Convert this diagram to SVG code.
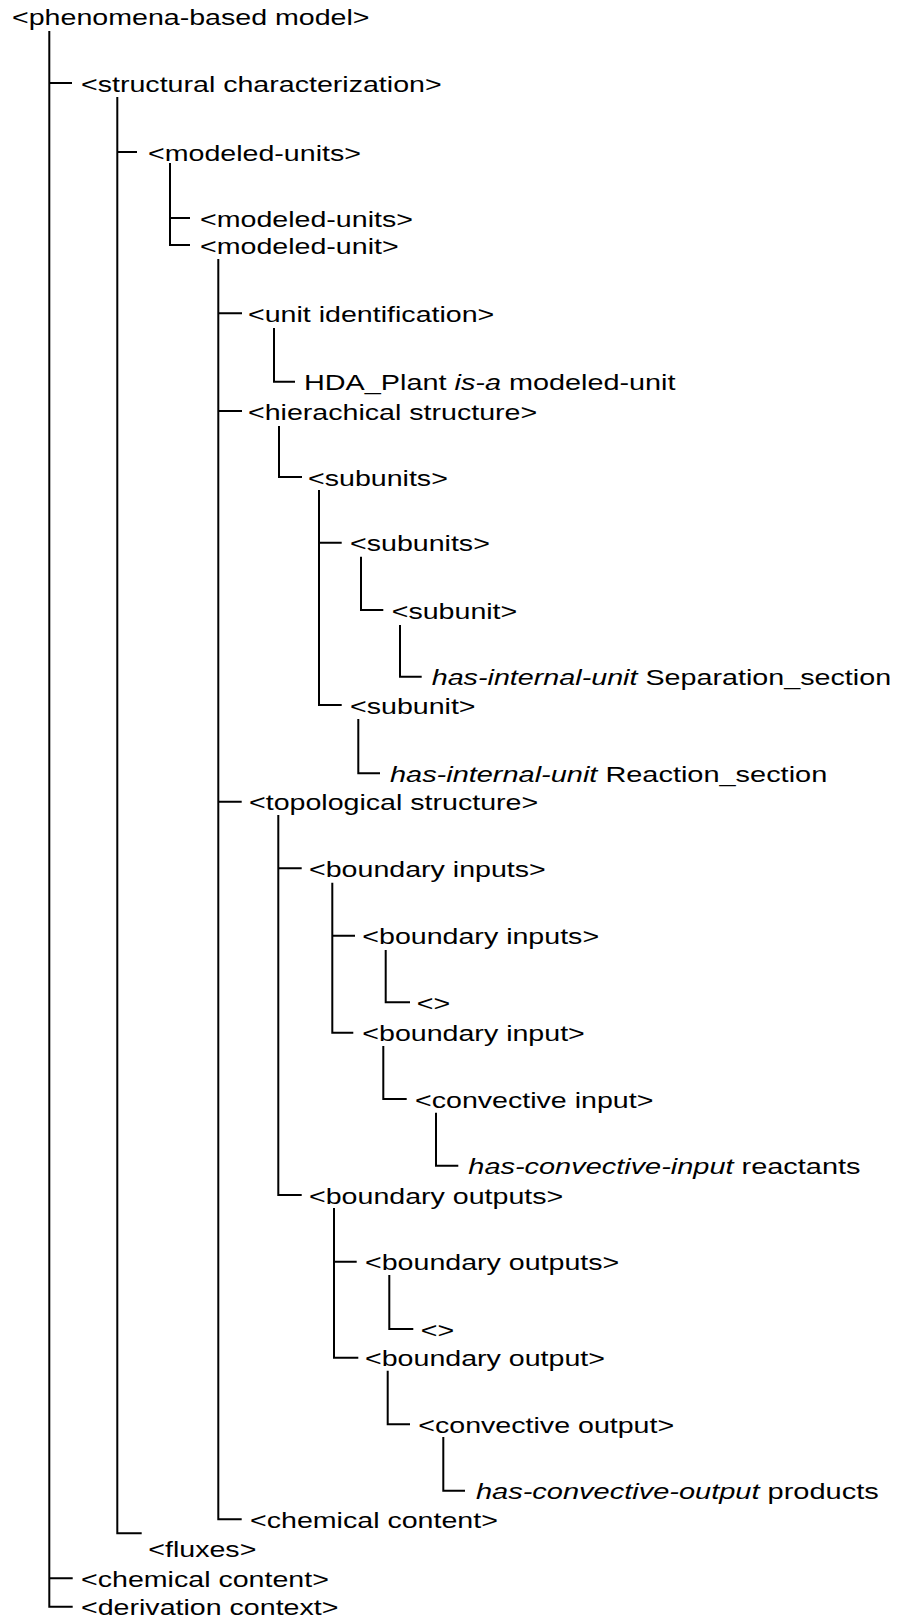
<svg xmlns="http://www.w3.org/2000/svg" width="898" height="1620" viewBox="0 0 898 1620">
<style>
  .t { font-family: "Liberation Sans", Arial, sans-serif; font-size: 22px; fill: #000; }
  .i { font-style: italic; }
  .c { fill: none; stroke: #000; stroke-width: 2; stroke-linejoin: miter; stroke-linecap: butt; }
</style>
<rect width="898" height="1620" fill="#fff"/>
<g id="connectors">
  <path class="c" d="M49.3,31 V1606.7 H72.7 M49.3,83 H72 M49.3,1578.3 H72.7"/>
  <path class="c" d="M117.3,97 V1533.3 H141.7 M117.3,152 H137"/>
  <path class="c" d="M170,163 V245 H190 M170,218 H190"/>
  <path class="c" d="M218.3,259 V1519.3 H241.7 M218.3,313.3 H242 M218.3,411 H242 M218.3,801.7 H241.7"/>
  <path class="c" d="M274,328 V381.7 H295"/>
  <path class="c" d="M279,426 V477 H302"/>
  <path class="c" d="M319,490 V705 H341.7 M319,542.7 H341.7"/>
  <path class="c" d="M361,556.7 V610 H383.3"/>
  <path class="c" d="M400,625 V676.7 H421.7"/>
  <path class="c" d="M358.3,719 V773.3 H380"/>
  <path class="c" d="M278.3,815 V1195 H301.7 M278.3,868.3 H301.7"/>
  <path class="c" d="M332.3,882.7 V1032.7 H353.3 M332.3,935.7 H355"/>
  <path class="c" d="M385.7,950 V1002.3 H410"/>
  <path class="c" d="M383.3,1046 V1099 H406.7"/>
  <path class="c" d="M436,1112.7 V1165.7 H458.3"/>
  <path class="c" d="M334,1208 V1357.7 H358.3 M334,1261.7 H356.7"/>
  <path class="c" d="M389.3,1275 V1329 H413.3"/>
  <path class="c" d="M387.7,1370.7 V1424.3 H410"/>
  <path class="c" d="M443.3,1437 V1490.7 H465"/>
</g>
<g id="n-phenomena-based-model"><text class="t" transform="translate(12,25) scale(1.3,1)">&lt;phenomena-based model&gt;</text></g>
<g id="n-structural-characterization"><text class="t" transform="translate(81,91.5) scale(1.3,1)">&lt;structural characterization&gt;</text></g>
<g id="n-modeled-units-1"><text class="t" transform="translate(148,160.5) scale(1.3,1)">&lt;modeled-units&gt;</text></g>
<g id="n-modeled-units-2"><text class="t" transform="translate(200,226.5) scale(1.3,1)">&lt;modeled-units&gt;</text></g>
<g id="n-modeled-unit"><text class="t" transform="translate(200,253.5) scale(1.3,1)">&lt;modeled-unit&gt;</text></g>
<g id="n-unit-identification"><text class="t" transform="translate(248,322) scale(1.3,1)">&lt;unit identification&gt;</text></g>
<g id="n-hda-plant"><text class="t" transform="translate(304,390) scale(1.31,1)">HDA_Plant <tspan class="i">is-a</tspan> modeled-unit</text></g>
<g id="n-hierachical-structure"><text class="t" transform="translate(248,419.5) scale(1.3,1)">&lt;hierachical structure&gt;</text></g>
<g id="n-subunits-1"><text class="t" transform="translate(308,485.5) scale(1.3,1)">&lt;subunits&gt;</text></g>
<g id="n-subunits-2"><text class="t" transform="translate(350,551) scale(1.3,1)">&lt;subunits&gt;</text></g>
<g id="n-subunit-1"><text class="t" transform="translate(391.7,618.5) scale(1.3,1)">&lt;subunit&gt;</text></g>
<g id="n-separation-section"><text class="t" transform="translate(431.7,685) scale(1.305,1)"><tspan class="i">has-internal-unit</tspan> Separation_section</text></g>
<g id="n-subunit-2"><text class="t" transform="translate(350,713.5) scale(1.3,1)">&lt;subunit&gt;</text></g>
<g id="n-reaction-section"><text class="t" transform="translate(390,782) scale(1.315,1)"><tspan class="i">has-internal-unit</tspan> Reaction_section</text></g>
<g id="n-topological-structure"><text class="t" transform="translate(249,810) scale(1.3,1)">&lt;topological structure&gt;</text></g>
<g id="n-boundary-inputs-1"><text class="t" transform="translate(309,877) scale(1.3,1)">&lt;boundary inputs&gt;</text></g>
<g id="n-boundary-inputs-2"><text class="t" transform="translate(362.3,944) scale(1.3,1)">&lt;boundary inputs&gt;</text></g>
<g id="n-empty-inputs"><text class="t" transform="translate(416.7,1010.5) scale(1.3,1)">&lt;&gt;</text></g>
<g id="n-boundary-input"><text class="t" transform="translate(362.3,1041) scale(1.3,1)">&lt;boundary input&gt;</text></g>
<g id="n-convective-input"><text class="t" transform="translate(415,1107.5) scale(1.3,1)">&lt;convective input&gt;</text></g>
<g id="n-reactants"><text class="t" transform="translate(468.3,1174) scale(1.315,1)"><tspan class="i">has-convective-input</tspan> reactants</text></g>
<g id="n-boundary-outputs-1"><text class="t" transform="translate(309,1203.5) scale(1.3,1)">&lt;boundary outputs&gt;</text></g>
<g id="n-boundary-outputs-2"><text class="t" transform="translate(365,1270) scale(1.3,1)">&lt;boundary outputs&gt;</text></g>
<g id="n-empty-outputs"><text class="t" transform="translate(420.7,1337.5) scale(1.3,1)">&lt;&gt;</text></g>
<g id="n-boundary-output"><text class="t" transform="translate(365,1366) scale(1.3,1)">&lt;boundary output&gt;</text></g>
<g id="n-convective-output"><text class="t" transform="translate(418.3,1433) scale(1.3,1)">&lt;convective output&gt;</text></g>
<g id="n-products"><text class="t" transform="translate(476,1499) scale(1.318,1)"><tspan class="i">has-convective-output</tspan> products</text></g>
<g id="n-chemical-content-1"><text class="t" transform="translate(250,1528) scale(1.3,1)">&lt;chemical content&gt;</text></g>
<g id="n-fluxes"><text class="t" transform="translate(148.3,1557) scale(1.3,1)">&lt;fluxes&gt;</text></g>
<g id="n-chemical-content-2"><text class="t" transform="translate(81,1587) scale(1.3,1)">&lt;chemical content&gt;</text></g>
<g id="n-derivation-context"><text class="t" transform="translate(81,1615) scale(1.3,1)">&lt;derivation context&gt;</text></g>
</svg>
